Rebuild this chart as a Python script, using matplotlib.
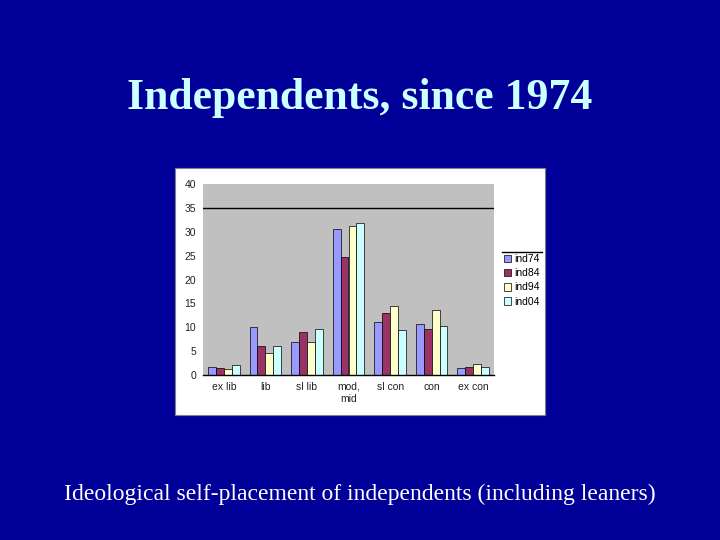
import numpy as np
import matplotlib.pyplot as plt
from matplotlib.lines import Line2D

# 类别
categories = ['ex lib', 'lib', 'sl lib', 'mod,\nmid', 'sl con', 'con', 'ex con']
series_names = ['ind74', 'ind84', 'ind94', 'ind04']
# 各年份百分比
ind74 = [1.7, 10.0, 7.0, 30.5, 11.1, 10.7, 1.5]
ind84 = [1.5, 6.1, 9.0, 24.7, 13.0, 9.6, 1.7]
ind94 = [1.2, 4.6, 7.0, 31.1, 14.5, 13.6, 2.2]
ind04 = [2.1, 6.1, 9.6, 31.8, 9.4, 10.2, 1.7]
colors = ['#9999FF', '#993366', '#FFFFCC', '#CCFFFF']

fig = plt.figure(figsize=(7.2, 5.4), dpi=100)
fig.patch.set_facecolor('#000099')

fig.text(0.5, 0.818, 'Independents, since 1974', ha='center', va='center',
         fontsize=31.5, fontweight='bold', color='#CCFFFF', family='Liberation Serif')
fig.text(0.5, 0.084, 'Ideological self-placement of independents (including leaners)',
         ha='center', va='center', fontsize=17, color='white', family='Liberation Serif')

# 白色图表区
bg = fig.add_axes([175 / 720, 1 - 415 / 540, 370 / 720, 247 / 540], zorder=0)
bg.set_facecolor('white')
bg.set_xticks([])
bg.set_yticks([])
for s in bg.spines.values():
    s.set_color('#808080')

ax = fig.add_axes([203 / 720, 1 - 375 / 540, 291 / 720, 191 / 540], zorder=1)
ax.set_facecolor('#C0C0C0')

x = np.arange(len(categories))
w = 0.19
data = [ind74, ind84, ind94, ind04]
for i, vals in enumerate(data):
    ax.bar(x + (i - 1.5) * w, vals, width=w, color=colors[i],
           edgecolor='black', linewidth=0.5, label=series_names[i], zorder=2)

ax.axhline(35, color='black', linewidth=1, zorder=1)
ax.set_xlim(-0.5, len(categories) - 0.5)
ax.set_ylim(0, 40)
ax.set_yticks(range(0, 41, 5))
ax.set_xticks(x)
ax.set_xticklabels(categories)
for s in ['top', 'right', 'left']:
    ax.spines[s].set_visible(False)
ax.spines['bottom'].set_linewidth(1)
ax.tick_params(length=0, labelsize=7.5, pad=5, labelfontfamily='Liberation Sans',
               labelcolor='#222222')

leg = fig.legend(loc='upper left', bbox_to_anchor=(500 / 720, 1 - 250 / 540),
                 frameon=False, handlelength=0.7, handleheight=0.7,
                 handletextpad=0.3, labelspacing=0.4, borderaxespad=0,
                 prop={'family': 'Liberation Sans', 'size': 7.5})
leg.set_zorder(3)
fig.lines.append(Line2D([502 / 720, 542 / 720], [1 - 252 / 540, 1 - 252 / 540],
                        transform=fig.transFigure, color='black', linewidth=1, zorder=3))

fig.savefig('out.png', dpi=100, facecolor=fig.get_facecolor())
